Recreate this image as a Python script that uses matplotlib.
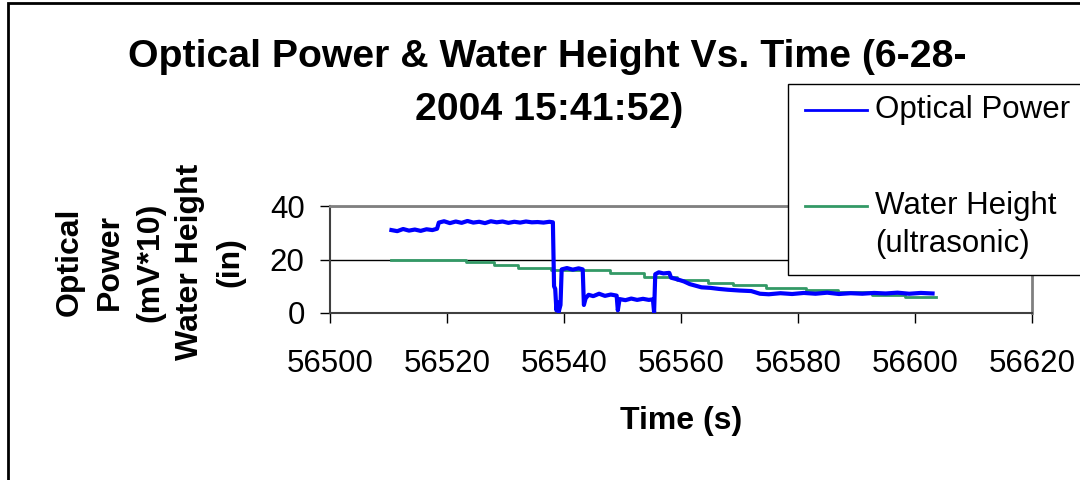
import matplotlib.pyplot as plt
from matplotlib.lines import Line2D
from matplotlib.patches import Rectangle

plt.rcParams['font.family'] = ['Liberation Sans', 'DejaVu Sans']

# Optical power (mV*10) vs time (s)
opt_time = [56510.5, 56511.5, 56512.5, 56513.5, 56514.5, 56515.5, 56516.5, 56517.5, 56518.3,
            56518.6, 56519.5, 56520.5, 56521.5, 56522.5, 56523.5, 56524.5, 56525.5, 56526.5,
            56527.5, 56528.5, 56529.5, 56530.5, 56531.5, 56532.5, 56533.5, 56534.5, 56535.5,
            56536.5, 56537.5, 56538.1, 56538.3, 56538.5, 56538.7, 56538.9, 56539.1, 56539.4,
            56539.6, 56540.5, 56541.5, 56542.5, 56543.2, 56543.4, 56543.7, 56544.2, 56545.0,
            56546.0, 56547.0, 56548.0, 56549.0, 56549.2, 56549.5, 56550.5, 56551.5, 56552.5,
            56553.5, 56554.5, 56555.2, 56555.4, 56555.6, 56556.2, 56557.0, 56558.0, 56558.3,
            56559.5, 56560.5, 56561.5, 56562.5, 56563.5, 56565.0, 56566.5, 56568.0, 56570.0,
            56572.0, 56573.5, 56575.0, 56577.0, 56579.0, 56581.0, 56583.0, 56585.0, 56587.0,
            56589.0, 56591.0, 56593.0, 56595.0, 56597.0, 56599.0, 56601.0, 56603.0]
opt_power = [31.0, 30.6, 31.4, 30.8, 31.2, 30.7, 31.3, 31.0, 31.5,
             33.8, 34.3, 33.6, 34.2, 33.7, 34.4, 33.8, 34.1, 33.6,
             34.3, 33.9, 34.2, 33.7, 34.1, 33.8, 34.2, 33.9, 34.0,
             33.8, 34.1, 33.9, 10.0, 9.0, 1.0, 4.0, 0.5, 3.0,
             16.3, 16.8, 16.2, 16.7, 16.3, 3.0, 5.5, 6.8, 6.3,
             7.2, 6.4, 6.9, 6.5, 1.0, 5.2, 4.8, 5.4, 4.9,
             5.3, 4.9, 5.1, 0.3, 14.5, 15.2, 14.8, 15.0, 13.2,
             12.5, 11.8, 10.8, 10.2, 9.6, 9.4, 9.0, 8.7, 8.4,
             8.2, 7.2, 7.0, 7.4, 7.1, 7.5, 7.2, 7.6, 7.1,
             7.4, 7.2, 7.5, 7.3, 7.6, 7.2, 7.5, 7.3]

# Water height (in), stepped readings
water_time = [56510.5, 56523.2, 56528.0, 56532.2, 56537.8, 56547.9, 56553.6, 56559.3,
              56564.7, 56568.9, 56574.6, 56581.4, 56586.9, 56592.7, 56598.3, 56603.6]
water_height = [20.0, 19.1, 18.1, 17.0, 16.0, 14.8, 13.5, 12.4,
                11.4, 10.5, 9.5, 8.7, 7.9, 6.9, 5.9, 5.9]

x_ticks = [56500, 56520, 56540, 56560, 56580, 56600, 56620]
y_ticks = [0, 20, 40]

blue = '#0000FF'
green = '#339966'

fig = plt.figure(figsize=(10.8, 4.8), dpi=100)
ax = fig.add_axes([330 / 1080, 1 - 313 / 480, 702 / 1080, 107 / 480])

ax.plot(opt_time, opt_power, color=blue, lw=3, zorder=3)
ax.plot(water_time, water_height, color=green, lw=2, drawstyle='steps-post', zorder=2)

ax.set_xlim(56500, 56620)
ax.set_ylim(0, 40)
ax.set_xticks(x_ticks)
ax.set_yticks(y_ticks)
ax.tick_params(axis='x', direction='out', length=7.2, width=1, pad=19, labelsize=22.5)
ax.tick_params(axis='y', direction='out', length=7.2, width=1, pad=11, labelsize=22.5)
ax.yaxis.grid(True, color='black', lw=1)
ax.set_axisbelow(True)

for s in ['top', 'right']:
    ax.spines[s].set_color('#808080')
    ax.spines[s].set_linewidth(2)
for s in ['left', 'bottom']:
    ax.spines[s].set_color('#404040')
    ax.spines[s].set_linewidth(1.5)

# title, two lines as in the original
fig.text(547 / 1080, 1 - 57 / 480, 'Optical Power & Water Height Vs. Time (6-28-',
         ha='center', va='center', fontsize=28.3, fontweight='bold')
fig.text(549 / 1080, 1 - 110 / 480, '2004 15:41:52)',
         ha='center', va='center', fontsize=28.3, fontweight='bold')

# axis labels
fig.text(150 / 1080, 1 - 262 / 480,
         'Optical\nPower\n(mV*10)\nWater Height\n(in)',
         ha='center', va='center', multialignment='center', rotation=90,
         fontsize=23, fontweight='bold', linespacing=1.45)
fig.text(681 / 1080, 1 - 421 / 480, 'Time (s)', ha='center', va='center',
         fontsize=23, fontweight='bold')

# legend box (Excel style, runs off the right edge)
fig.patches.append(Rectangle((788 / 1080, 1 - 275 / 480), 300 / 1080, 191 / 480,
                             transform=fig.transFigure, facecolor='white',
                             edgecolor='black', lw=1, zorder=5))
fig.lines.append(Line2D([805 / 1080, 867 / 1080], [1 - 110 / 480] * 2,
                        transform=fig.transFigure, color=blue, lw=2, zorder=6))
fig.lines.append(Line2D([805 / 1080, 867 / 1080], [1 - 206 / 480] * 2,
                        transform=fig.transFigure, color=green, lw=2, zorder=6))
fig.text(875 / 1080, 1 - 110 / 480, 'Optical Power', ha='left', va='center',
         fontsize=22.5, zorder=7)
fig.text(875 / 1080, 1 - 206 / 480, 'Water Height', ha='left', va='center',
         fontsize=22.5, zorder=7)
fig.text(875 / 1080, 1 - 244 / 480, '(ultrasonic)', ha='left', va='center',
         fontsize=22.5, zorder=7)

# chart area border
fig.patches.append(Rectangle((8 / 1080, -0.05), 1.1, 1.05 - 3 / 480,
                             transform=fig.transFigure, fill=False,
                             edgecolor='black', lw=2, zorder=10))

plt.savefig('out.png', dpi=100)
plt.close()
